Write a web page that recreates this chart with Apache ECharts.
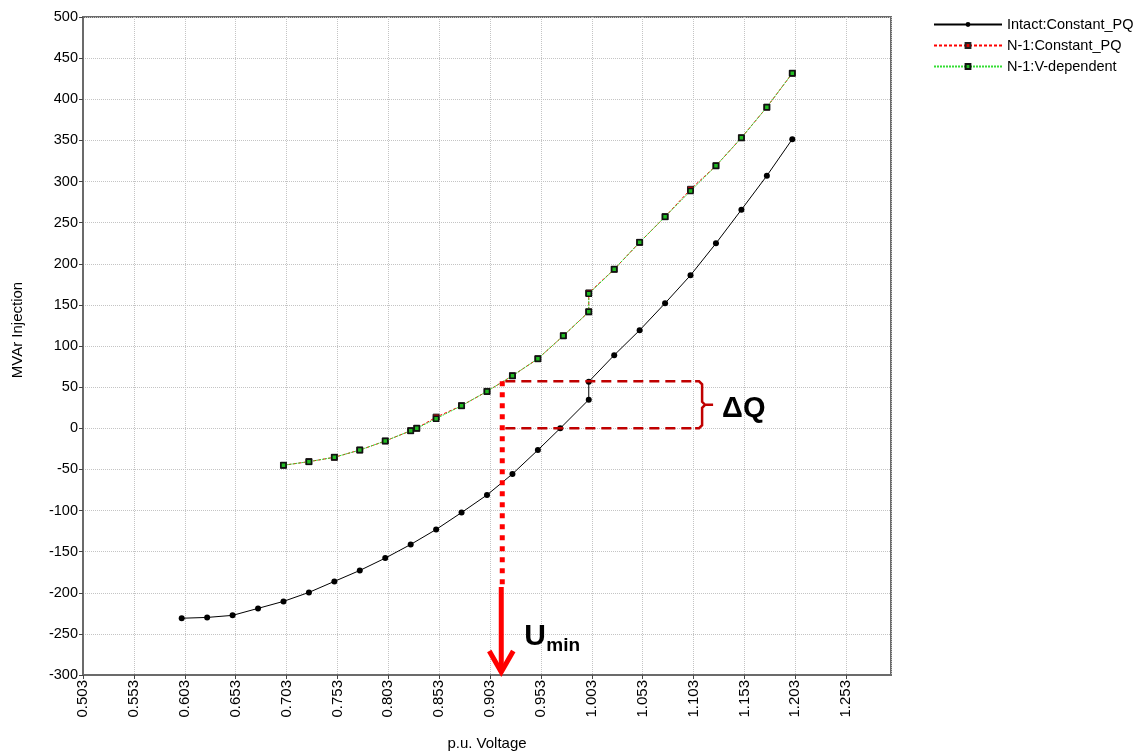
<!DOCTYPE html>
<html><head><meta charset="utf-8">
<script src="https://cdn.jsdelivr.net/npm/echarts@6/dist/echarts.min.js"></script>
<style>html,body{margin:0;padding:0;background:#fff}#c{width:1139px;height:756px}</style>
</head><body><div id="c"></div>
<script>
// ---- data ----
const intactV = [0.600,0.625,0.650,0.675,0.700,0.725,0.750,0.775,0.800,0.825,0.850,0.875,0.900,0.925,0.950,0.972,1.000,1.000,1.025,1.050,1.075,1.100,1.125,1.150,1.175,1.200];
const intactQ = [-231,-230,-227.5,-219,-210.5,-199.6,-186.2,-172.9,-157.9,-141.3,-123.1,-102.5,-81.1,-55.6,-26.5,0,34.7,56.6,88.9,119.2,152,186,224.8,265.7,307,351.5];
const n1V = [0.700,0.725,0.750,0.775,0.800,0.825,0.831,0.850,0.875,0.900,0.925,0.950,0.975,1.000,1.000,1.025,1.050,1.075,1.100,1.125,1.150,1.175,1.200];
const n1PQ = [-45,-40.6,-35.3,-26.5,-15.5,-3,0,13.5,27.4,44.8,63.8,84.5,112.4,141.5,164.5,193.3,226,257.2,290.5,319.1,353.1,390.4,431.6];
const n1Vdep = [-45,-40.6,-35.3,-26.5,-15.5,-3,0,11.6,27.4,44.8,63.8,84.5,112.4,141.5,163.4,193.3,226,257.2,288.5,319.1,353.1,390.4,431.6];
const seriesNames = ['Intact:Constant_PQ','N-1:Constant_PQ','N-1:V-dependent'];
const xMin = 0.503, xMax = 1.297, xStep = 0.05;
const yMin = -300, yMax = 500, yStep = 50;
const xTitle = 'p.u. Voltage', yTitle = 'MVAr Injection';
// annotation values (data units)
const uMin = 0.915, dqTop = 57, dqBottom = 0, dqRight = 1.1045, dqLeft = 0.918, arrowSolidFrom = -193;

function pairs(xs, ys){ return xs.map((x,i)=>[x, ys[i]]); }

const font = 'Liberation Sans, Arial, sans-serif';
const gridLine = {show: true, lineStyle: {color: '#c4c4c4', type: [1,1], width: 1}};
const option = {
  animation: false,
  backgroundColor: '#fff',
  textStyle: {fontFamily: font},
  grid: {left: 83, top: 17, right: 248, bottom: 80, show: true, borderColor: '#6b6b6b', borderWidth: 2, backgroundColor: '#fff'},
  legend: {
    orient: 'vertical', left: 928, top: 12, itemWidth: 68, itemHeight: 6, itemGap: 6,
    textStyle: {fontFamily: font, fontSize: 14.5, color: '#000'},
    data: seriesNames
  },
  xAxis: {
    type: 'value', min: xMin, max: xMax, interval: xStep,
    name: xTitle, nameLocation: 'middle', nameGap: 61,
    nameTextStyle: {fontFamily: font, fontSize: 15, color: '#000'},
    axisLine: {show: true, onZero: false, lineStyle: {color: '#6b6b6b', width: 2}},
    axisTick: {show: true, length: 4, lineStyle: {color: '#444'}},
    axisLabel: {rotate: 90, margin: 5, fontSize: 15, color: '#000', fontFamily: font, showMaxLabel: false,
      formatter: v => v.toFixed(3)},
    splitLine: gridLine
  },
  yAxis: {
    type: 'value', min: yMin, max: yMax, interval: yStep,
    axisLine: {show: true, onZero: false, lineStyle: {color: '#6b6b6b', width: 2}},
    axisTick: {show: true, length: 4, lineStyle: {color: '#444'}},
    axisLabel: {margin: 5, fontSize: 14.5, color: '#000', fontFamily: font},
    splitLine: gridLine
  },
  series: [
    {name: seriesNames[0], type: 'line', data: pairs(intactV, intactQ), symbol: 'circle', symbolSize: 6,
      lineStyle: {color: '#000', width: 1}, itemStyle: {color: '#000'}, z: 3},
    {name: seriesNames[1], type: 'line', data: pairs(n1V, n1PQ), symbol: 'rect', symbolSize: 6,
      lineStyle: {color: '#ff0000', width: 1, type: [3,2]}, itemStyle: {color: '#e00000', borderColor: '#222', borderWidth: 1}, z: 4},
    {name: seriesNames[2], type: 'line', data: pairs(n1V, n1Vdep), symbol: 'rect', symbolSize: 5,
      lineStyle: {color: '#33dd33', width: 1, type: [2,1]}, itemStyle: {color: '#22bb22', borderColor: '#111', borderWidth: 1.5}, z: 5}
  ]
};
const chart = echarts.init(document.getElementById('c'));
chart.setOption(option);

function P(x, y){ return chart.convertToPixel({gridIndex: 0}, [x, y]); }
const pTL = P(dqLeft, dqTop), pTR = P(dqRight, dqTop), pBL = P(dqLeft, dqBottom), pBR = P(dqRight, dqBottom);
const pU0 = P(uMin, dqTop), pU1 = P(uMin, arrowSolidFrom), pU2 = P(uMin, yMin);
const bx = pTR[0] + 7, tipX = pTR[0] + 18, midY = (pTR[1] + pBR[1]) / 2;
const dark = '#c00000', bright = '#ff0000';
chart.setOption({graphic: [
  {type: 'text', x: 18, y: 330, rotation: Math.PI / 2, style: {text: yTitle, font: '15px ' + font, fill: '#000', align: 'center', verticalAlign: 'middle'}},
  {type: 'line', z: 100, shape: {x1: pTL[0], y1: pTL[1], x2: pTR[0], y2: pTR[1]}, style: {stroke: dark, lineWidth: 2.5, lineDash: [10,6]}},
  {type: 'line', z: 100, shape: {x1: pBL[0], y1: pBL[1], x2: pBR[0], y2: pBR[1]}, style: {stroke: dark, lineWidth: 2.5, lineDash: [10,6]}},
  {type: 'polyline', z: 100, shape: {points: [[pTR[0], pTR[1]], [bx-3, pTR[1]], [bx, pTR[1]+3], [bx, midY-3], [bx+3, midY], [tipX, midY], [bx+3, midY], [bx, midY+3], [bx, pBR[1]-3], [bx-3, pBR[1]], [pBR[0], pBR[1]]]}, style: {stroke: dark, lineWidth: 2.5, fill: null}},
  {type: 'line', z: 100, shape: {x1: pU0[0], y1: pU0[1], x2: pU1[0], y2: pU1[1]}, style: {stroke: bright, lineWidth: 5, lineDash: [5,6]}},
  {type: 'line', z: 100, shape: {x1: pU1[0]-1, y1: pU1[1], x2: pU2[0]-1, y2: pU2[1]-3}, style: {stroke: bright, lineWidth: 5}},
  {type: 'polyline', z: 100, shape: {points: [[pU2[0]-13, pU2[1]-24], [pU2[0]-1, pU2[1]-3], [pU2[0]+11, pU2[1]-24]]}, style: {stroke: bright, lineWidth: 5, fill: null}},
  {type: 'text', z: 100, x: tipX + 9, y: midY + 4, style: {text: 'ΔQ', font: 'bold 29px ' + font, fill: '#000', verticalAlign: 'middle', align: 'left'}},
  {type: 'text', z: 100, x: pU2[0] + 22, y: pU2[1] - 38, style: {text: 'U', font: 'bold 30px ' + font, fill: '#000', verticalAlign: 'middle', align: 'left'}},
  {type: 'text', z: 100, x: pU2[0] + 44, y: pU2[1] - 29, style: {text: 'min', font: 'bold 19px ' + font, fill: '#000', verticalAlign: 'middle', align: 'left'}}
]});
</script>
</body></html>
